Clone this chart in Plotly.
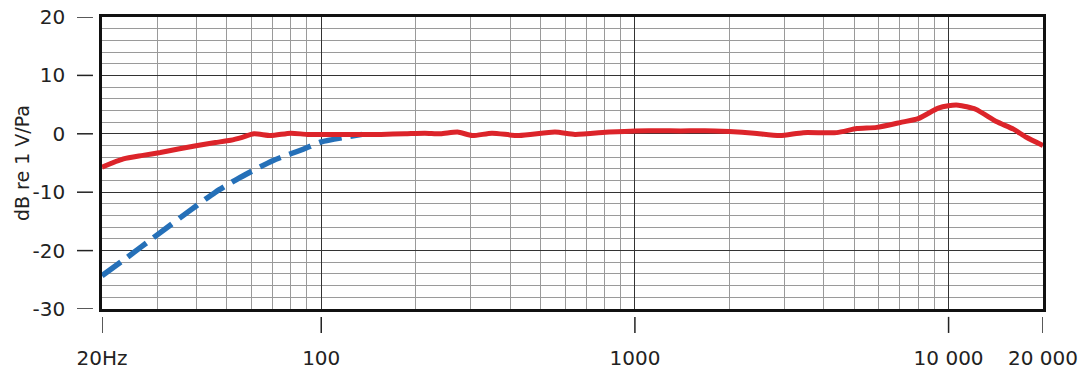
import plotly.graph_objects as go

# ---- data ----
freq_red = [20, 23.4, 27, 30.7, 35, 40.3, 46, 51.4, 56, 61, 69, 80, 90, 103, 130, 155,
            185, 214, 240, 272, 303, 350, 427, 556, 644, 828, 1000, 1400, 1800, 2000,
            2400, 2900, 3440, 4400, 5100, 5900, 7100, 8000, 9270, 9980, 10740, 12200,
            14200, 16100, 17700, 20000]
red_db = [-5.7, -4.3, -3.7, -3.2, -2.6, -2.0, -1.5, -1.1, -0.6, 0.0, -0.3, 0.1, -0.1, -0.1,
          -0.1, -0.1, 0.0, 0.1, 0.0, 0.3, -0.3, 0.1, -0.3, 0.3, -0.1, 0.3, 0.5, 0.5, 0.5,
          0.4, 0.1, -0.3, 0.2, 0.2, 0.9, 1.1, 2.0, 2.6, 4.4, 4.8, 4.9, 4.2, 2.1, 0.8, -0.6,
          -2.0]

freq_blue = [20, 24, 30, 38, 46, 55, 70, 88, 100, 119, 135]
blue_db = [-24.3, -21.2, -17.3, -13.2, -10.0, -7.5, -4.6, -2.6, -1.4, -0.6, -0.1]

x_major = [20, 100, 1000, 10000, 20000]
x_major_text = ["20Hz", "100", "1000", "10 000", "20 000"]
x_minor = [30, 40, 50, 60, 70, 80, 90,
           200, 300, 400, 500, 600, 700, 800, 900,
           2000, 3000, 4000, 5000, 6000, 7000, 8000, 9000]
y_major = [-30, -20, -10, 0, 10, 20]
y_major_text = ["-30", "-20", "-10", "0", "10", "20"]
y_title = "dB re 1 V/Pa"

RED = "#dc242a"
BLUE = "#2570b8"
FONT = "DejaVu Sans"

fig = go.Figure()
fig.add_trace(go.Scatter(x=freq_blue, y=blue_db, mode="lines",
                         line=dict(color=BLUE, width=5.5, dash="23px,9px", shape="spline", smoothing=0.6),
                         hoverinfo="skip", showlegend=False))
fig.add_trace(go.Scatter(x=freq_red, y=red_db, mode="lines",
                         line=dict(color=RED, width=5, shape="spline", smoothing=0.6),
                         hoverinfo="skip", showlegend=False))

# tick marks detached from frame
shapes = []
for v in x_major:
    shapes.append(dict(type="line", xref="x", yref="paper", x0=v, x1=v, y0=-0.027, y1=-0.082,
                       line=dict(color="#222", width=1.5)))
for v in y_major:
    shapes.append(dict(type="line", xref="paper", yref="y", x0=-0.0266, x1=-0.0096, y0=v, y1=v,
                       line=dict(color="#222", width=1.5)))

fig.update_layout(
    width=1088, height=370,
    margin=dict(l=102, r=45, t=17, b=61),
    paper_bgcolor="white", plot_bgcolor="white",
    font=dict(family=FONT, size=20, color="#222"),
    shapes=shapes,
    annotations=[dict(text=y_title, xref="paper", yref="paper", x=-0.085, y=0.5,
                      textangle=-90, showarrow=False, xanchor="center", yanchor="middle",
                      font=dict(size=19, family=FONT, color="#222"))],
    xaxis=dict(
        type="log", range=[1.30103, 4.30103], automargin=False,
        tickmode="array", tickvals=x_major, ticktext=x_major_text,
        ticks="", showgrid=True, gridcolor="#333", gridwidth=1.3,
        showline=True, linecolor="#111", linewidth=2.5, mirror=True,
        ticklabelstandoff=29,
        minor=dict(tickmode="array", tickvals=x_minor, showgrid=True,
                   gridcolor="#9a9a9a", gridwidth=1, ticks=""),
        zeroline=False,
    ),
    yaxis=dict(
        range=[-30, 20], tickmode="array", tickvals=y_major, ticktext=y_major_text,
        automargin=False,
        ticks="outside", ticklen=30, tickcolor="rgba(0,0,0,0)",
        showgrid=True, gridcolor="#333", gridwidth=1.3,
        showline=True, linecolor="#111", linewidth=2.5, mirror=True,
        zeroline=False,
        minor=dict(dtick=2, tick0=0, showgrid=True, gridcolor="#9a9a9a", gridwidth=1, ticks=""),
    ),
)

fig.write_html("out.html")
